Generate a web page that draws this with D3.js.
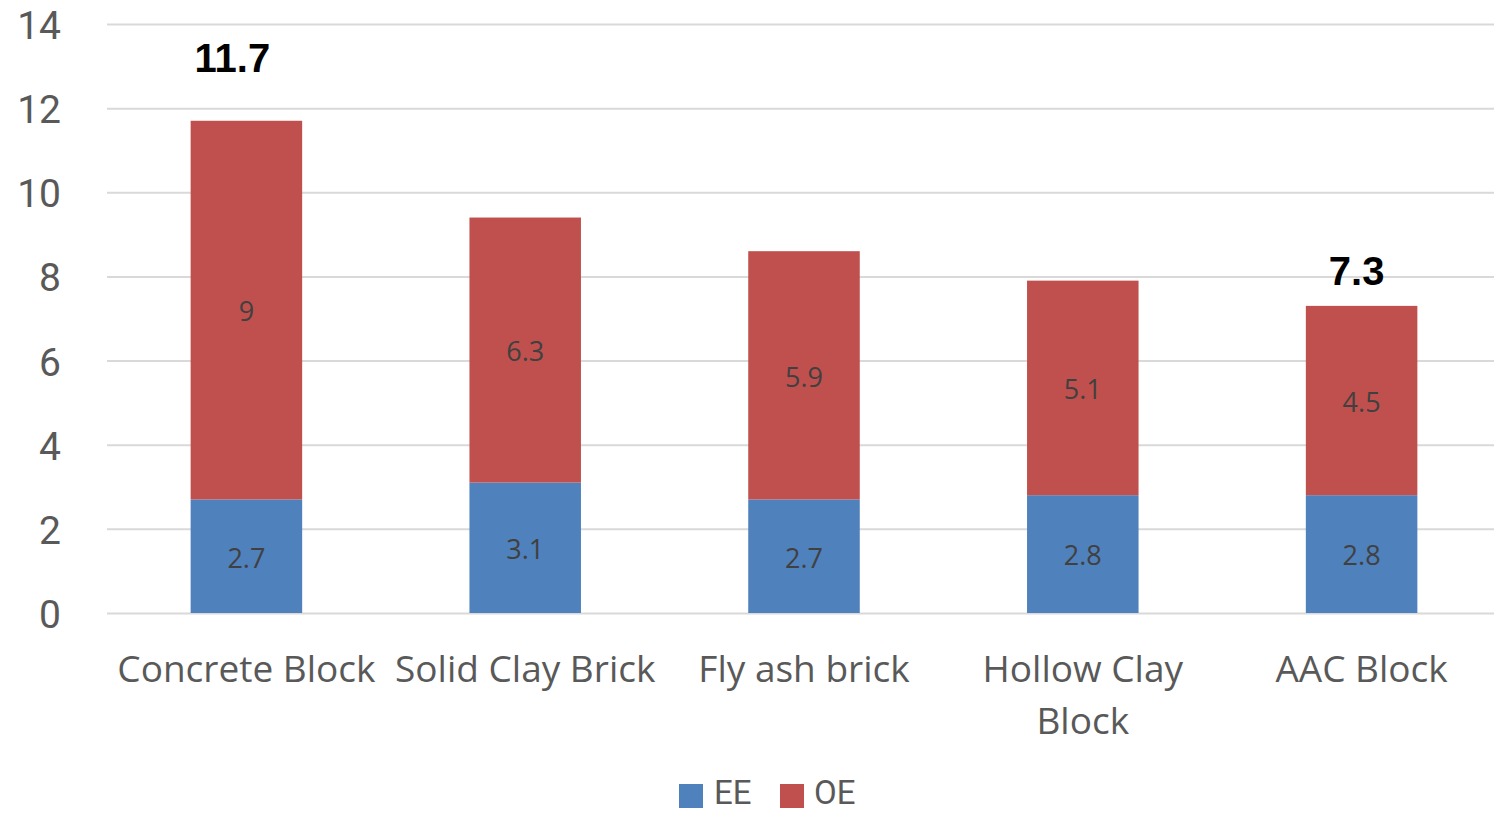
<!DOCTYPE html>
<html>
<head>
<meta charset="utf-8">
<script src="https://cdn.jsdelivr.net/npm/d3@7"></script>
<style>
  html, body { margin: 0; padding: 0; background: #fff; }
  svg { display: block; }
</style>
</head>
<body>
<svg id="chart" width="1494" height="813"></svg>
<script>
// ---- data ----
const categories = ["Concrete Block", "Solid Clay Brick", "Fly ash brick", "Hollow Clay Block", "AAC Block"];
const seriesNames = ["EE", "OE"];
const eeValues = [2.7, 3.1, 2.7, 2.8, 2.8];
const oeValues = [9, 6.3, 5.9, 5.1, 4.5];
const yTicks = [0, 2, 4, 6, 8, 10, 12, 14];
const totalCallouts = [
  { category: "Concrete Block", label: "11.7" },
  { category: "AAC Block", label: "7.3" }
];

// ---- layout ----
const W = 1494, H = 813;
const margin = { left: 107, right: -7, top: 24, bottom: 200 };
const colors = { EE: "#4F81BD", OE: "#C0504D" };
const svg = d3.select("#chart");

const x = d3.scaleBand()
  .domain(categories)
  .range([margin.left, W - margin.right])
  .paddingInner(0.6)
  .paddingOuter(0.3);

const y = d3.scaleLinear()
  .domain([0, 14])
  .range([613, margin.top]);

const rows = categories.map((c, i) => ({ category: c, EE: eeValues[i], OE: oeValues[i] }));
const stacked = d3.stack().keys(seriesNames)(rows);

// gridlines
svg.append("g").selectAll("line")
  .data(yTicks)
  .join("line")
  .attr("x1", margin.left)
  .attr("x2", W)
  .attr("y1", d => y(d) + 0.5)
  .attr("y2", d => y(d) + 0.5)
  .attr("stroke", "#D9D9D9")
  .attr("stroke-width", 2);

// y axis labels
const yAxis = d3.axisLeft(y).tickValues(yTicks).tickSize(0).tickPadding(0);
const yg = svg.append("g").attr("transform", "translate(61,0)").call(yAxis);
yg.select(".domain").remove();
yg.selectAll("text")
  .attr("font-family", "Roboto, 'Open Sans', sans-serif")
  .attr("font-size", 39)
  .attr("fill", "#595959")
  .attr("dy", "0.37em");

// bars
const layers = svg.append("g").selectAll("g")
  .data(stacked)
  .join("g")
  .attr("fill", d => colors[d.key]);

layers.selectAll("rect")
  .data(d => d)
  .join("rect")
  .attr("x", d => x(d.data.category))
  .attr("width", x.bandwidth())
  .attr("y", d => y(d[1]))
  .attr("height", d => y(d[0]) - y(d[1]));

// segment labels
layers.selectAll("text")
  .data(d => d)
  .join("text")
  .attr("x", d => x(d.data.category) + x.bandwidth() / 2)
  .attr("y", d => (y(d[0]) + y(d[1])) / 2)
  .attr("dy", "0.42em")
  .attr("text-anchor", "middle")
  .attr("font-family", "'Open Sans', sans-serif")
  .attr("font-size", 27)
  .attr("fill", "#404040")
  .text(d => d3.format("")(+(d[1] - d[0]).toFixed(1)));

// category labels (wrapped)
const xAxis = d3.axisBottom(x).tickSize(0).tickPadding(0);
const xg = svg.append("g").attr("transform", "translate(0,613)").call(xAxis);
xg.select(".domain").remove();
xg.selectAll("text")
  .attr("font-family", "'Open Sans', sans-serif")
  .attr("font-size", 37)
  .attr("fill", "#595959")
  .attr("y", 0)
  .attr("dy", 0)
  .each(function (d) {
    const t = d3.select(this);
    const words = d.split(" ");
    t.text(null);
    const maxW = x.step();
    let lines = [];
    let line = [];
    const probe = t.append("tspan");
    words.forEach(w => {
      const trial = line.concat(w).join(" ");
      probe.text(trial);
      if (probe.node().getComputedTextLength() > maxW && line.length) {
        lines.push(line.join(" "));
        line = [w];
      } else {
        line.push(w);
      }
    });
    lines.push(line.join(" "));
    probe.remove();
    lines.forEach((ln, i) => {
      t.append("tspan")
        .attr("x", 0)
        .attr("y", 69 + i * 52)
        .text(ln);
    });
  });

// total callouts (bold)
const totals = rows.map(r => r.EE + r.OE);
const calloutOffsets = {
  "Concrete Block": { dv: 1.16, dx: -14 },
  "AAC Block": { dv: 0.5, dx: -5 }
};
svg.append("g").selectAll("text")
  .data(totalCallouts)
  .join("text")
  .attr("x", d => x(d.category) + x.bandwidth() / 2 + calloutOffsets[d.category].dx)
  .attr("y", d => y(totals[categories.indexOf(d.category)] + calloutOffsets[d.category].dv))
  .attr("text-anchor", "middle")
  .attr("font-family", "'Liberation Sans', Arial, sans-serif")
  .attr("font-weight", "bold")
  .attr("font-size", 40)
  .attr("fill", "#000")
  .text(d => d.label);

// legend
const legend = svg.append("g");
const legendItems = [
  { key: "EE", sx: 679, tx: 714 },
  { key: "OE", sx: 780, tx: 814 }
];
legend.selectAll("rect")
  .data(legendItems)
  .join("rect")
  .attr("x", d => d.sx)
  .attr("y", 784)
  .attr("width", 24)
  .attr("height", 24)
  .attr("fill", d => colors[d.key]);
legend.selectAll("text")
  .data(legendItems)
  .join("text")
  .attr("x", d => d.tx)
  .attr("y", 804)
  .attr("font-family", "Roboto, 'Open Sans', sans-serif")
  .attr("font-size", 33)
  .attr("fill", "#595959")
  .text(d => d.key);
</script>
</body>
</html>
